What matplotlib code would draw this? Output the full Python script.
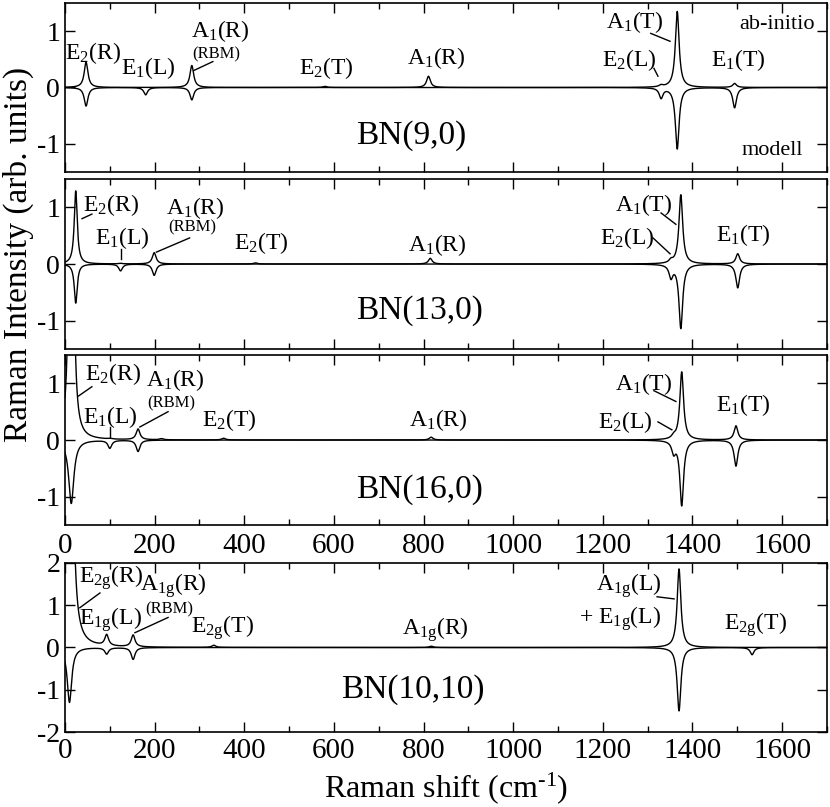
import numpy as np
import matplotlib.pyplot as plt
from matplotlib.ticker import MultipleLocator

plt.rcParams['font.family'] = 'serif'
plt.rcParams['font.serif'] = ['Liberation Serif', 'DejaVu Serif']
plt.rcParams['mathtext.fontset'] = 'custom'
plt.rcParams['mathtext.rm'] = 'Liberation Serif'
plt.rcParams['mathtext.it'] = 'Liberation Serif:italic'
plt.rcParams['mathtext.bf'] = 'Liberation Serif:bold'
plt.rcParams['axes.unicode_minus'] = False

# peak positions (cm^-1), ab-initio heights (up), modell heights (down),
# half widths of the ab-initio and modell peaks
bn90_pos = [47, 180, 283, 580, 811, 1330, 1366, 1494]
bn90_abinitio = [0.45, 0.0, 0.39, 0.02, 0.2, 0.03, 1.35, 0.07]
bn90_modell = [-0.33, -0.13, -0.22, 0.0, 0.0, -0.18, -1.09, -0.36]
bn90_w_ab = [5, 5, 5, 5, 5, 5, 5, 5]
bn90_w_mod = [5, 5, 5, 5, 5, 5, 5, 5]

bn130_pos = [24, 124, 199, 425, 815, 1352, 1374, 1501]
bn130_abinitio = [1.29, 0.01, 0.2, 0.02, 0.1, 0.05, 1.22, 0.18]
bn130_modell = [-0.69, -0.12, -0.2, 0.0, 0.0, -0.22, -1.13, -0.42]
bn130_w_ab = [4, 5, 5, 5, 5, 5, 5, 5]
bn130_w_mod = [4, 5, 5, 5, 5, 5, 5, 5]

bn160_pos = [14, 100, 163, 215, 354, 817, 1358, 1376, 1497]
bn160_abinitio = [17.0, 0.01, 0.19, 0.02, 0.03, 0.05, 0.05, 1.2, 0.25]
bn160_modell = [-1.12, -0.14, -0.2, 0.0, 0.0, 0.0, -0.2, -1.15, -0.46]
bn160_w_ab = [3, 5, 5, 5, 5, 5, 5, 5, 5]
bn160_w_mod = [7, 5, 5, 5, 5, 5, 5, 5, 5]

bn1010_pos = [10, 93, 152, 332, 817, 1370, 1533]
bn1010_abinitio = [40.0, 0.26, 0.28, 0.05, 0.03, 1.86, 0.0]
bn1010_modell = [-1.3, -0.15, -0.28, 0.0, 0.0, -1.5, -0.17]
bn1010_w_ab = [3, 5, 5, 5, 5, 5, 5]
bn1010_w_mod = [6, 5, 5, 5, 5, 5, 5]

shift = np.linspace(0, 1700, 8000)


def spectrum(pos, height, width):
    y = np.zeros_like(shift)
    for x0, h, g in zip(pos, height, width):
        y += h * g**2 / ((shift - x0)**2 + g**2)
    return y


fig = plt.figure(figsize=(8.3, 8.07), dpi=100)
left, width = 0.0783, 0.918
boxes = [(0.7869, 0.2094), (0.5675, 0.2107), (0.3494, 0.2107), (0.0929, 0.2095)]
axes = [fig.add_axes([left, b, width, h]) for b, h in boxes]

panels = [
    (bn90_pos, bn90_abinitio, bn90_modell, bn90_w_ab, bn90_w_mod, 1.5),
    (bn130_pos, bn130_abinitio, bn130_modell, bn130_w_ab, bn130_w_mod, 1.5),
    (bn160_pos, bn160_abinitio, bn160_modell, bn160_w_ab, bn160_w_mod, 1.5),
    (bn1010_pos, bn1010_abinitio, bn1010_modell, bn1010_w_ab, bn1010_w_mod, 2.0),
]

for ax, (pos, ab, mo, wa, wm, lim) in zip(axes, panels):
    ax.plot(shift, spectrum(pos, ab, wa), color='black', lw=1.0)
    ax.plot(shift, spectrum(pos, mo, wm), color='black', lw=1.0)
    ax.set_xlim(0, 1700)
    ax.set_ylim(-lim, lim)
    ax.xaxis.set_major_locator(MultipleLocator(200))
    ax.xaxis.set_minor_locator(MultipleLocator(100))
    ax.yaxis.set_major_locator(MultipleLocator(1))
    ax.tick_params(which='both', direction='in', top=True, right=True, width=1.0)
    ax.tick_params(axis='x', labelsize=21, pad=4)
    ax.tick_params(axis='y', labelsize=20, pad=3.5)
    ax.tick_params(which='major', length=7)
    ax.tick_params(which='minor', length=4)
    for s in ax.spines.values():
        s.set_linewidth(1.2)

for ax in axes[:2]:
    ax.set_xticklabels([])
axes[2].tick_params(axis='x', pad=6)
axes[0].set_yticks([-1, 0, 1])
axes[3].set_yticks([-2, -1, 0, 1, 2])

fs = 17
fs_small = 12
fs_big = 24


def label(ax, txt, x, y, size=fs):
    ax.text(x, y, txt, ha='center', va='center', fontsize=size)


def leader(ax, x1, y1, x2, y2):
    ax.plot([x1, x2], [y1, y2], color='black', lw=1.0)


# BN(9,0)
ax = axes[0]
label(ax, r'E$_2$(R)', 62, 0.62)
label(ax, r'E$_1$(L)', 187, 0.35)
label(ax, r'A$_1$(R)', 347, 1.01)
label(ax, '(RBM)', 338, 0.59, fs_small)
label(ax, r'E$_2$(T)', 583, 0.35)
label(ax, r'A$_1$(R)', 829, 0.53)
label(ax, r'A$_1$(T)', 1272, 1.16)
label(ax, r'E$_2$(L)', 1260, 0.48)
label(ax, r'E$_1$(T)', 1503, 0.48)
label(ax, 'ab-initio', 1588, 1.12, 16)
label(ax, 'modell', 1577, -1.12, 16)
label(ax, 'BN(9,0)', 773, -0.86, fs_big)
leader(ax, 287, 0.30, 330, 0.46)
leader(ax, 1307, 0.96, 1350, 0.82)
leader(ax, 1314, 0.34, 1323, 0.2)

# BN(13,0)
ax = axes[1]
label(ax, r'E$_2$(R)', 103, 1.04)
label(ax, r'E$_1$(L)', 127, 0.46)
label(ax, r'A$_1$(R)', 290, 0.99)
label(ax, '(RBM)', 284, 0.64, fs_small)
label(ax, r'E$_2$(T)', 438, 0.37)
label(ax, r'A$_1$(R)', 830, 0.33)
label(ax, r'A$_1$(T)', 1292, 1.04)
label(ax, r'E$_2$(L)', 1254, 0.46)
label(ax, r'E$_1$(T)', 1514, 0.51)
label(ax, 'BN(13,0)', 790, -0.83, fs_big)
leader(ax, 38, 0.80, 60, 0.88)
leader(ax, 124, 0.27, 124, 0.09)
leader(ax, 204, 0.21, 278, 0.46)
leader(ax, 1330, 0.9, 1363, 0.7)
leader(ax, 1312, 0.46, 1350, 0.18)

# BN(16,0)
ax = axes[2]
label(ax, r'E$_2$(R)', 107, 1.17)
label(ax, r'E$_1$(L)', 101, 0.40)
label(ax, r'A$_1$(R)', 245, 1.06)
label(ax, '(RBM)', 237, 0.65, fs_small)
label(ax, r'E$_2$(T)', 367, 0.35)
label(ax, r'A$_1$(R)', 832, 0.35)
label(ax, r'A$_1$(T)', 1292, 0.99)
label(ax, r'E$_2$(L)', 1251, 0.31)
label(ax, r'E$_1$(T)', 1514, 0.61)
label(ax, 'BN(16,0)', 790, -0.88, fs_big)
leader(ax, 29, 0.77, 60, 0.94)
leader(ax, 100, 0.23, 100, 0.05)
leader(ax, 167, 0.23, 230, 0.5)
leader(ax, 1314, 0.87, 1363, 0.68)
leader(ax, 1323, 0.32, 1354, 0.18)

# BN(10,10)
ax = axes[3]
label(ax, r'E$_{\mathrm{2g}}$(R)', 102, 1.66)
label(ax, r'A$_{\mathrm{1g}}$(R)', 241, 1.47)
label(ax, r'E$_{\mathrm{1g}}$(L)', 101, 0.65)
label(ax, '(RBM)', 233, 0.89, fs_small)
label(ax, r'E$_{\mathrm{2g}}$(T)', 352, 0.48)
label(ax, r'A$_{\mathrm{1g}}$(R)', 826, 0.43)
label(ax, r'A$_{\mathrm{1g}}$(L)', 1258, 1.47)
label(ax, r'+ E$_{\mathrm{1g}}$(L)', 1238, 0.69)
label(ax, r'E$_{\mathrm{2g}}$(T)', 1541, 0.53)
label(ax, 'BN(10,10)', 775, -0.99, fs_big)
leader(ax, 33, 0.94, 78, 1.29)
leader(ax, 156, 0.35, 230, 0.71)
leader(ax, 1321, 1.2, 1359, 1.15)

axes[3].set_xlabel(r'Raman shift (cm$^{\text{-1}}$)', fontsize=23, labelpad=5)
fig.text(0.0223, 0.685, 'Raman Intensity (arb. units)', rotation=90,
         ha='center', va='center', fontsize=24)

fig.savefig('out.png', dpi=100)
